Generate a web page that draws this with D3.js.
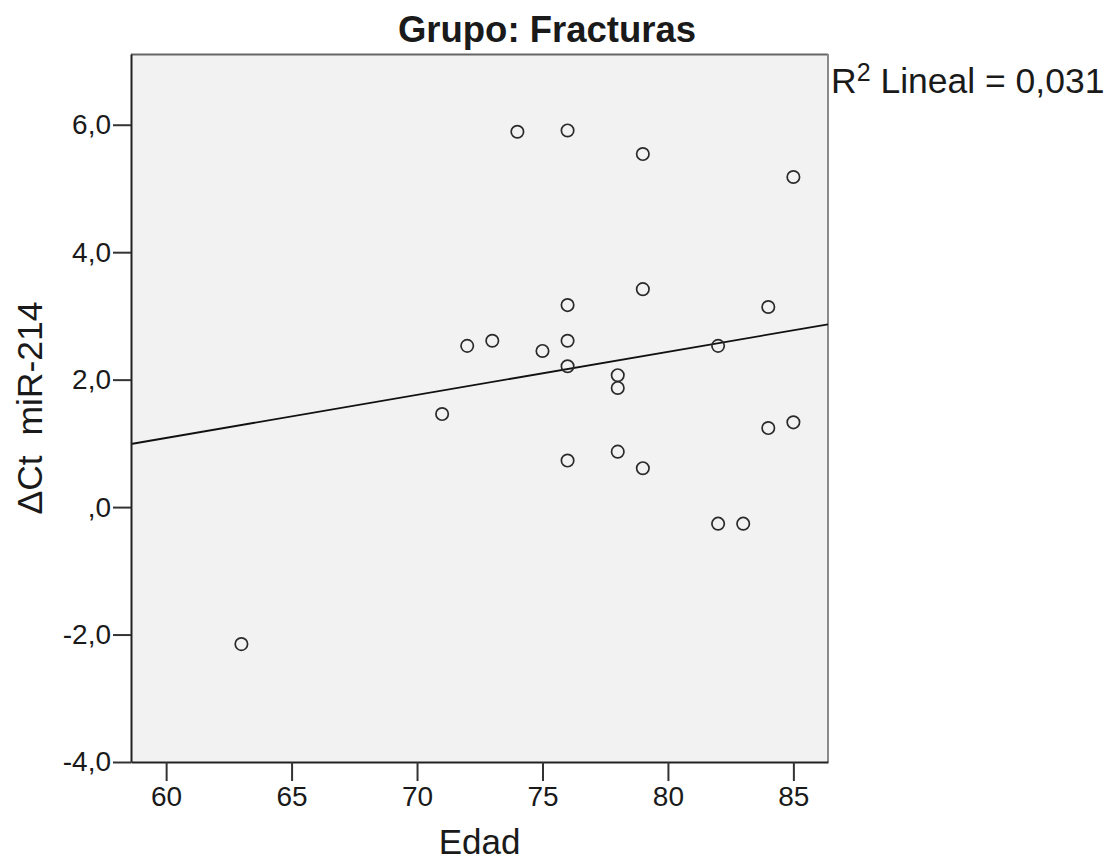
<!DOCTYPE html>
<html>
<head>
<meta charset="utf-8">
<script src="https://cdn.jsdelivr.net/npm/d3@7"></script>
<style>
  body { margin: 0; background: #fff; }
  svg { display: block; }
  text { font-family: "Liberation Sans", Arial, sans-serif; fill: #1a1a1a; }
</style>
</head>
<body>
<svg id="chart" width="1118" height="863"></svg>
<script>
// ---- Data ----
const edad = [63, 71, 72, 73, 74, 75, 76, 76, 76, 76, 76, 78, 78, 78, 79, 79, 79, 82, 82, 83, 84, 84, 85, 85];
const deltaCt = [-2.15, 1.46, 2.53, 2.61, 5.89, 2.45, 5.91, 3.17, 2.61, 2.21, 0.73, 2.07, 1.87, 0.87, 5.54, 3.42, 0.61, 2.53, -0.26, -0.26, 3.14, 1.24, 5.18, 1.33];
const xTicks = [60, 65, 70, 75, 80, 85];
const yTicks = [-4, -2, 0, 2, 4, 6];
const yTickLabels = ["-4,0", "-2,0", ",0", "2,0", "4,0", "6,0"];
const titleText = "Grupo: Fracturas";
const xLabel = "Edad";
const yLabel = "\u0394Ct  miR-214";
const r2Text = "0,031";

// ---- Layout ----
const svg = d3.select("#chart");
const pL = 131, pR = 828, pT = 54, pB = 762;

const x = d3.scaleLinear().domain([58.6, 86.38]).range([pL, pR]);
const y = d3.scaleLinear().domain([-4, 7.11]).range([pB, pT]);

// Plot background + frame
svg.append("rect")
  .attr("x", pL).attr("y", pT)
  .attr("width", pR - pL).attr("height", pB - pT)
  .attr("fill", "#f2f2f2")
  .attr("stroke", "none");
svg.append("line").attr("x1", pL).attr("x2", pR).attr("y1", pT + 0.5).attr("y2", pT + 0.5)
  .attr("stroke", "#666").attr("stroke-width", 2);
svg.append("line").attr("x1", pR).attr("x2", pR).attr("y1", pT).attr("y2", pB)
  .attr("stroke", "#8a8a8a").attr("stroke-width", 2);

// Regression line (least squares from data)
const mx = d3.mean(edad), my = d3.mean(deltaCt);
let sxy = 0, sxx = 0;
edad.forEach((v, i) => { sxy += (v - mx) * (deltaCt[i] - my); sxx += (v - mx) * (v - mx); });
const slope = sxy / sxx, intercept = my - slope * mx;
const [x0, x1] = x.domain();
svg.append("line")
  .attr("x1", x(x0)).attr("y1", y(intercept + slope * x0))
  .attr("x2", x(x1)).attr("y2", y(intercept + slope * x1))
  .attr("stroke", "#111").attr("stroke-width", 1.8);

// Points
svg.append("g").selectAll("circle")
  .data(edad.map((e, i) => [e, deltaCt[i]]))
  .join("circle")
  .attr("cx", d => x(d[0])).attr("cy", d => y(d[1]))
  .attr("r", 6.2)
  .attr("fill", "none")
  .attr("stroke", "#2a2a2a")
  .attr("stroke-width", 1.7);

// Axes
const xAxis = d3.axisBottom(x).tickValues(xTicks).tickSize(19).tickSizeOuter(0).tickPadding(5);
const gx = svg.append("g").attr("transform", `translate(0,${pB})`).call(xAxis);
gx.select(".domain").attr("stroke", "#222").attr("stroke-width", 2);
gx.selectAll(".tick line").attr("stroke", "#333").attr("stroke-width", 2);
gx.selectAll(".tick text").attr("font-size", 28).attr("fill", "#1a1a1a")
  .attr("font-family", "Liberation Sans, Arial, sans-serif");

const yAxis = d3.axisLeft(y).tickValues(yTicks).tickSize(18).tickSizeOuter(0).tickPadding(2)
  .tickFormat((d, i) => yTickLabels[i]);
const gy = svg.append("g").attr("transform", `translate(${pL},0)`).call(yAxis);
gy.select(".domain").attr("stroke", "#222").attr("stroke-width", 2);
gy.selectAll(".tick line").attr("stroke", "#333").attr("stroke-width", 2);
gy.selectAll(".tick text").attr("font-size", 28).attr("fill", "#1a1a1a")
  .attr("font-family", "Liberation Sans, Arial, sans-serif");

// Title
svg.append("text")
  .attr("x", 547).attr("y", 42)
  .attr("text-anchor", "middle")
  .attr("font-size", 36.5).attr("font-weight", "bold")
  .text(titleText);

// X label
svg.append("text")
  .attr("x", (pL + pR) / 2).attr("y", 854)
  .attr("text-anchor", "middle")
  .attr("font-size", 35)
  .text(xLabel);

// Y label
svg.append("text")
  .attr("transform", `translate(42,${(pT + pB) / 2}) rotate(-90)`)
  .attr("text-anchor", "middle")
  .attr("font-size", 35.5)
  .attr("xml:space", "preserve")
  .style("white-space", "pre")
  .text(yLabel);

// R² annotation
const r2 = svg.append("text")
  .attr("x", 831).attr("y", 93)
  .attr("font-size", 35.5);
r2.append("tspan").text("R");
r2.append("tspan").attr("font-size", 25).attr("dy", -12).text("2");
r2.append("tspan").attr("dy", 12).text(" Lineal = " + r2Text);
</script>
</body>
</html>
